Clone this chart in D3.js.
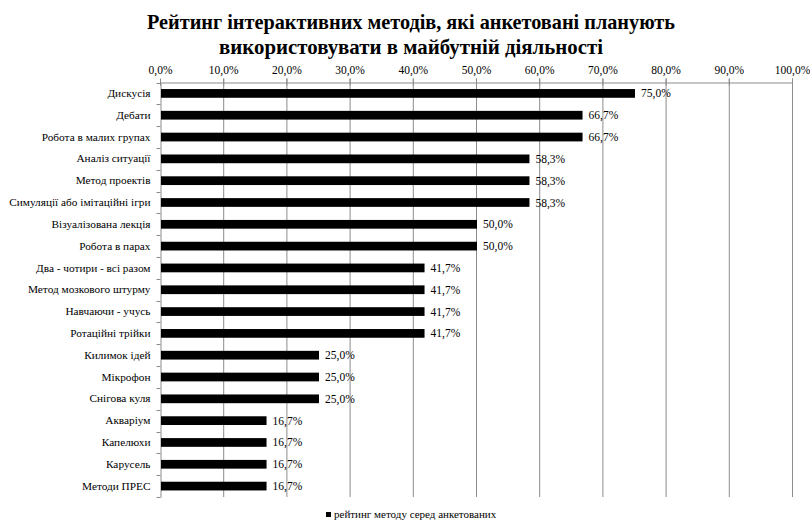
<!DOCTYPE html>
<html>
<head>
<meta charset="utf-8">
<script src="https://cdn.jsdelivr.net/npm/d3@7"></script>
<style>
  html, body { margin: 0; padding: 0; background: #fff; }
  svg { display: block; }
</style>
</head>
<body>
<svg id="chart" width="810" height="523" font-family="'Liberation Serif', 'Times New Roman', serif"></svg>
<script>
// Interactive methods and the share of respondents planning to use them (%)
const methods = [
  "Дискусія", "Дебати", "Робота в малих групах", "Аналіз ситуації",
  "Метод проектів", "Симуляції або імітаційні ігри", "Візуалізована лекція",
  "Робота в парах", "Два - чотири - всі разом", "Метод мозкового штурму",
  "Навчаючи - учусь", "Ротаційні трійки", "Килимок ідей", "Мікрофон",
  "Снігова куля", "Акваріум", "Капелюхи", "Карусель", "Методи ПРЕС"
];
const shares = [75.0, 66.7, 66.7, 58.3, 58.3, 58.3, 50.0, 50.0, 41.7, 41.7, 41.7, 41.7, 25.0, 25.0, 25.0, 16.7, 16.7, 16.7, 16.7];
const tickValues = [0, 10, 20, 30, 40, 50, 60, 70, 80, 90, 100];
const titleLines = ["Рейтинг інтерактивних методів, які анкетовані планують", "використовувати в майбутній діяльності"];
const legendLabel = "рейтинг методу серед анкетованих";

const SERIF = "'Liberation Serif', 'Times New Roman', serif";
const fmt = v => v.toFixed(1).replace(".", ",") + "%";

const svg = d3.select("#chart");
const plot = { left: 160, right: 792, top: 82.5, bottom: 497 };

const x = d3.scaleLinear().domain([0, 100]).range([plot.left, plot.right]);
const y = d3.scaleBand().domain(methods).range([plot.top, plot.bottom]).paddingInner(0.6).paddingOuter(0.3);

// Title
svg.append("g").selectAll("text").data(titleLines).join("text")
  .attr("x", 411).attr("y", (d, i) => 29 + i * 25)
  .attr("text-anchor", "middle")
  .attr("font-family", SERIF)
  .style("font-size", "21px").style("font-weight", "bold")
  .attr("textLength", (d, i) => i === 0 ? 528 : 384)
  .attr("lengthAdjust", "spacingAndGlyphs")
  .text(d => d);

// Vertical gridlines
svg.append("g").selectAll("line").data(tickValues.slice(1)).join("line")
  .attr("x1", d => x(d) + 0.5).attr("x2", d => x(d) + 0.5)
  .attr("y1", plot.top - 4).attr("y2", plot.bottom)
  .attr("stroke", "#8c8c8c").attr("stroke-width", 1);

// Top value axis, tick marks crossing the axis line
const xAxis = svg.append("g").attr("transform", `translate(0,${plot.top})`)
  .call(d3.axisTop(x).tickValues(tickValues).tickFormat(fmt).tickSizeInner(4).tickSizeOuter(0).tickPadding(5));
xAxis.attr("font-family", SERIF).attr("font-size", 11.5);
xAxis.select(".domain").attr("stroke", "#8c8c8c");
xAxis.selectAll(".tick line").attr("stroke", "#8c8c8c").attr("y2", -4).attr("y1", 3);
xAxis.selectAll(".tick text").attr("fill", "#000");

// Left category axis with ticks between categories
const yAxis = svg.append("g").attr("transform", `translate(${plot.left + 0.5},0)`)
  .call(d3.axisLeft(y).tickSize(0).tickPadding(10));
yAxis.attr("font-family", SERIF).attr("font-size", 11.3);
yAxis.select(".domain").attr("stroke", "#8c8c8c");
yAxis.selectAll(".tick text").attr("fill", "#000");
const bounds = d3.range(methods.length + 1).map(i => plot.top + i * (plot.bottom - plot.top) / methods.length);
yAxis.append("g").selectAll("line").data(bounds).join("line")
  .attr("x1", -4).attr("x2", 0)
  .attr("y1", d => Math.round(d) + 0.5).attr("y2", d => Math.round(d) + 0.5)
  .attr("stroke", "#8c8c8c");

// Bars
svg.append("g").selectAll("rect").data(methods).join("rect")
  .attr("x", x(0) + 1)
  .attr("y", d => y(d))
  .attr("width", (d, i) => x(shares[i]) - x(0))
  .attr("height", y.bandwidth())
  .attr("fill", "#000");

// Value labels
svg.append("g").attr("font-family", SERIF).selectAll("text").data(methods).join("text")
  .attr("x", (d, i) => x(shares[i]) + 7)
  .attr("y", d => y(d) + y.bandwidth() / 2)
  .attr("dy", "0.35em")
  .style("font-size", "11.5px")
  .text((d, i) => fmt(shares[i]));

// Legend
const lg = svg.append("g").attr("transform", "translate(326,518)").attr("font-family", SERIF);
lg.append("rect").attr("x", 0).attr("y", -6).attr("width", 5).attr("height", 5).attr("fill", "#000");
lg.append("text").attr("x", 8).attr("y", 0).style("font-size", "11px").text(legendLabel);
</script>
</body>
</html>
